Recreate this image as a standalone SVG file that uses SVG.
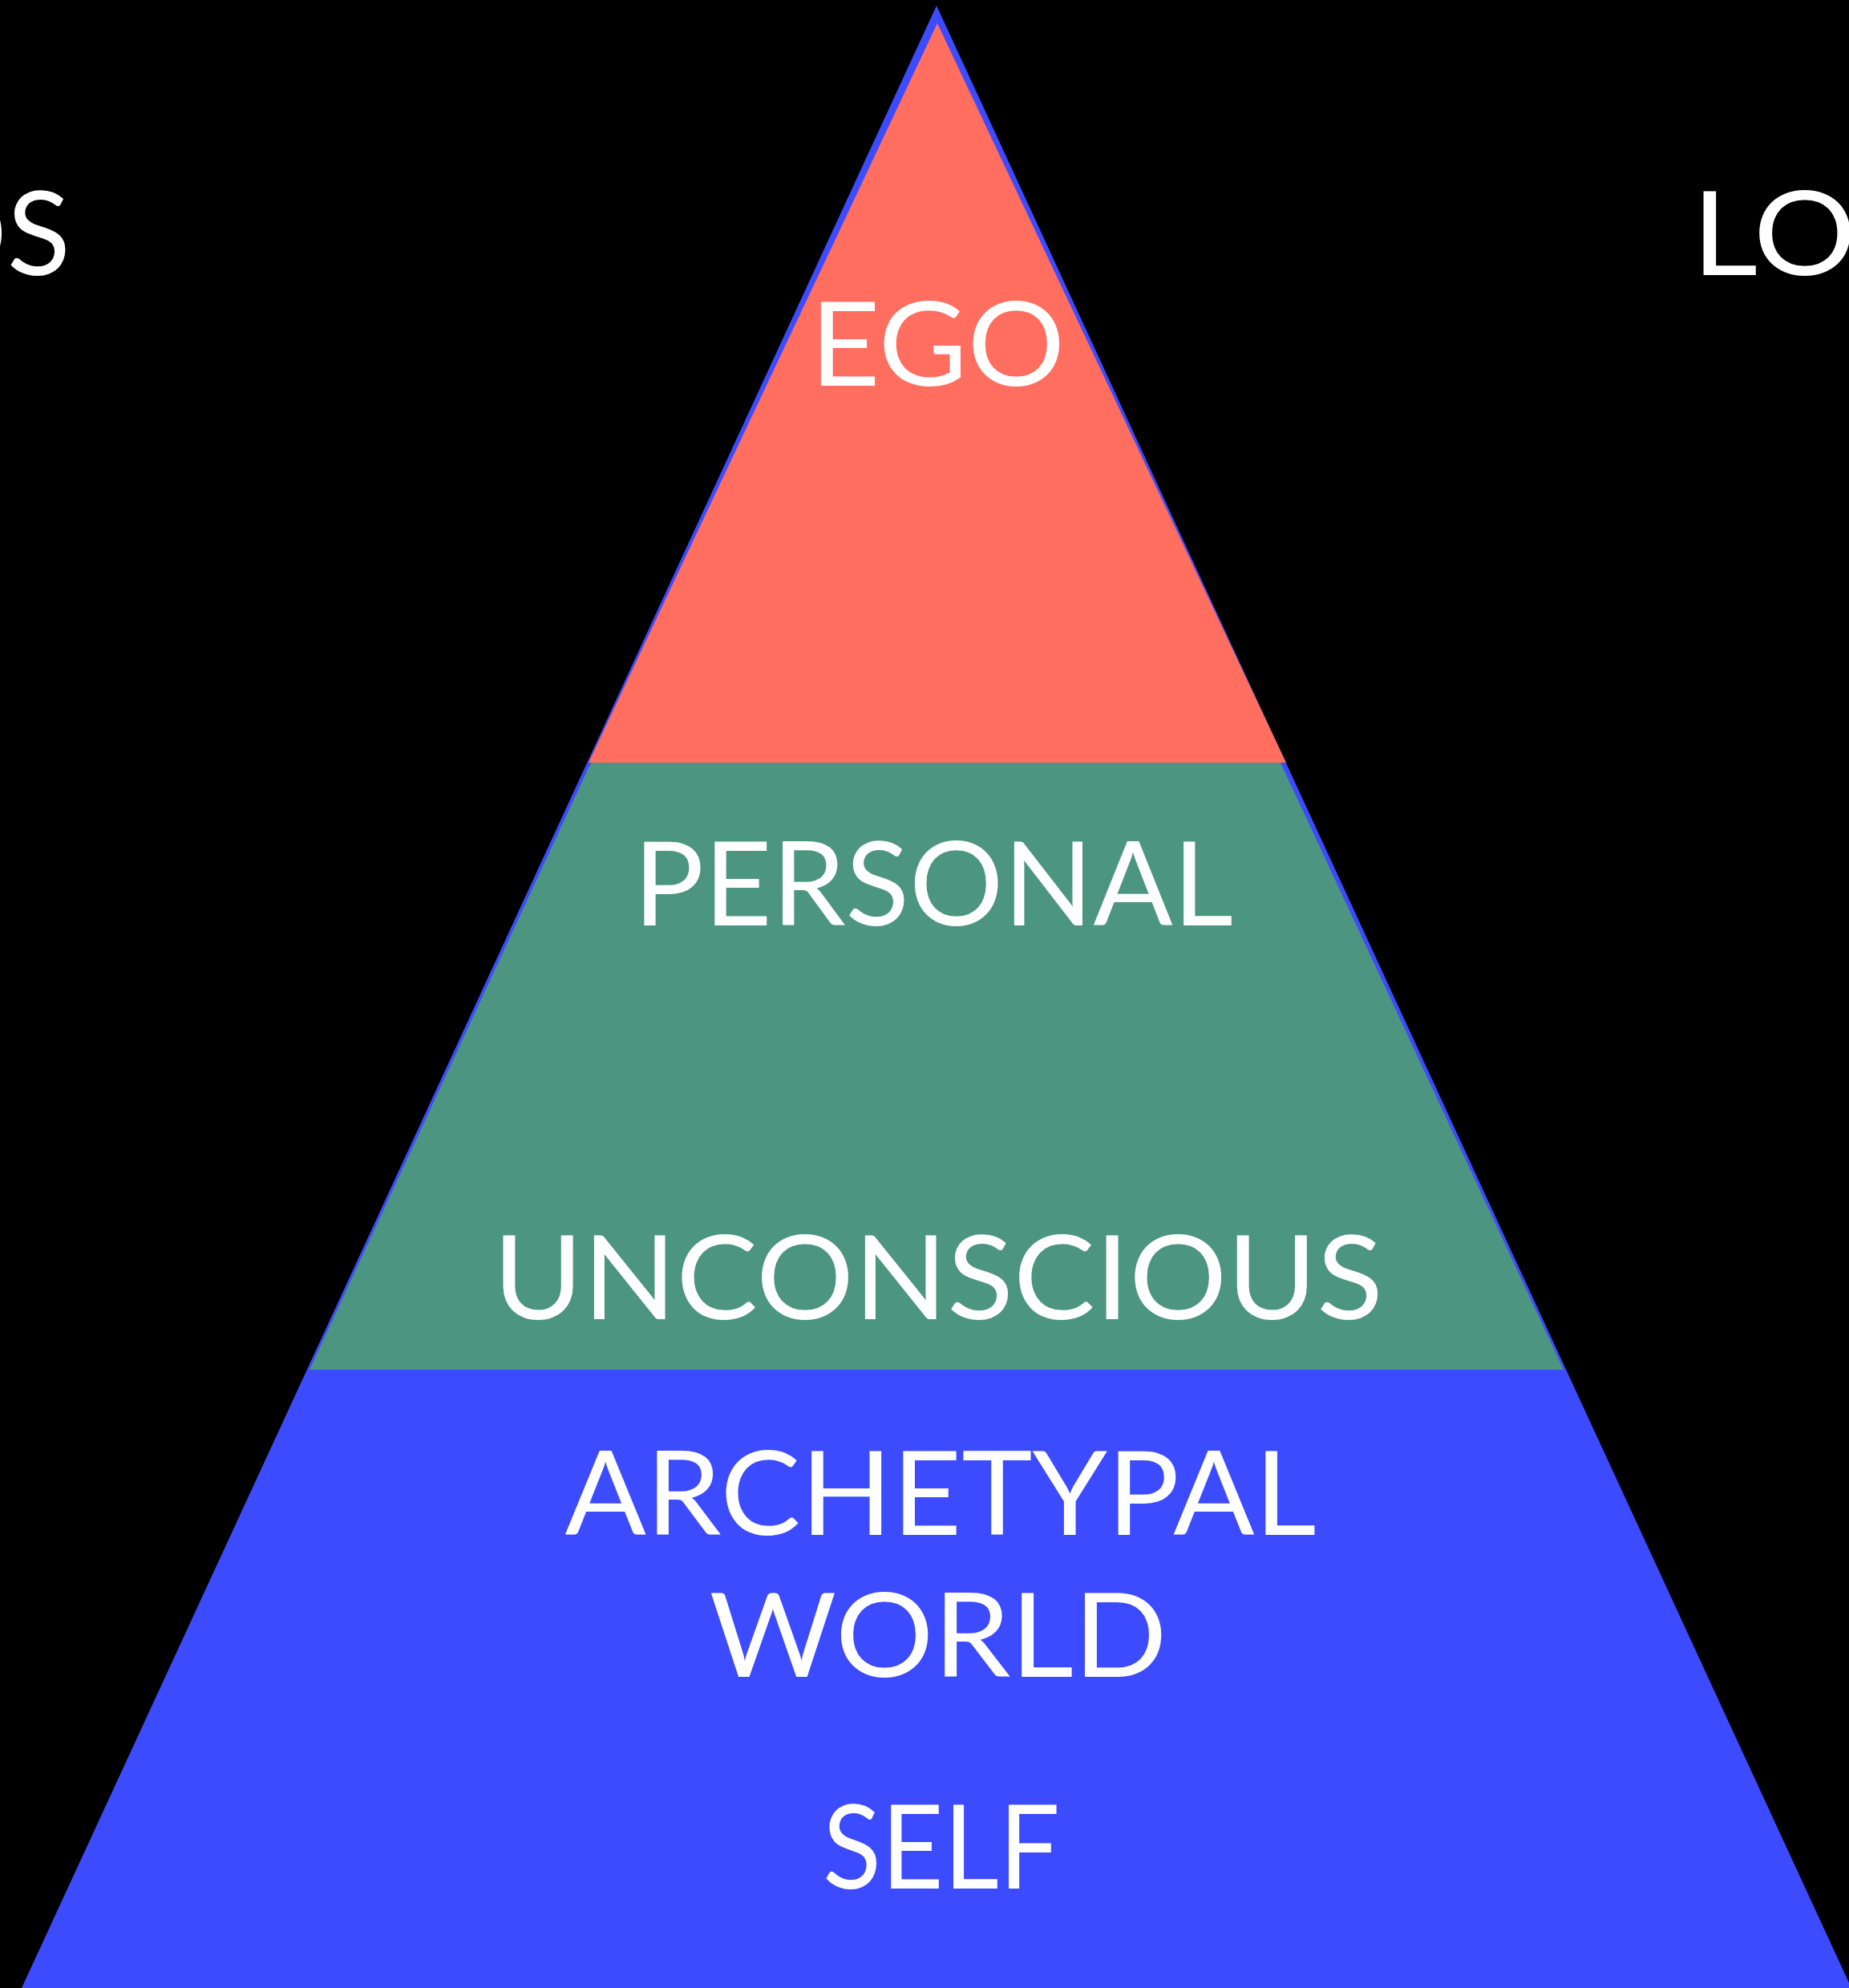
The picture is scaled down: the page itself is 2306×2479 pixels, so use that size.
<svg xmlns="http://www.w3.org/2000/svg" width="2306" height="2479" viewBox="0 0 2306 2479">
  <style>
    .lbl { font-family: "Lato", "Open Sans", "Liberation Sans", sans-serif; font-size: 146px; fill: #ffffff; text-anchor: middle; }
    .side { font-family: "Lato", "Open Sans", "Liberation Sans", sans-serif; font-size: 146px; fill: #ffffff; }
  </style>
  <rect x="0" y="0" width="2306" height="2479" fill="#000000"/>

  <!-- outer pyramid, also the bottom layer -->
  <g id="self-layer">
    <polygon points="1168,7 2309,2479 27,2479" fill="#3d4bff"/>
  </g>
  <!-- middle layer -->
  <g id="personal-unconscious">
    <polygon points="737,951 1597,951 1950,1708 386,1708" fill="#4c9580"/>
  </g>
  <!-- top layer -->
  <g id="ego">
    <polygon points="1169,29 1604,951 734,951" fill="#ff6e5e"/>
  </g>

  <g id="labels">
    <text class="lbl" x="1169" y="481" textLength="318" lengthAdjust="spacingAndGlyphs">EGO</text>
    <text class="lbl" x="1164" y="1154" textLength="748" lengthAdjust="spacingAndGlyphs">PERSONAL</text>
    <text class="lbl" x="1170" y="1645" textLength="1110" lengthAdjust="spacingAndGlyphs">UNCONSCIOUS</text>
    <text class="lbl" x="1173" y="1914" textLength="937" lengthAdjust="spacingAndGlyphs">ARCHETYPAL</text>
    <text class="lbl" x="1170" y="2091" textLength="571" lengthAdjust="spacingAndGlyphs">WORLD</text>
    <text class="lbl" x="1174" y="2355" textLength="296" lengthAdjust="spacingAndGlyphs">SELF</text>
  </g>

  <g id="side-labels">
    <text class="side" x="88" y="343" text-anchor="end">OS</text>
    <text class="side" x="2110" y="343" textLength="205" lengthAdjust="spacingAndGlyphs">LO</text>
  </g>
</svg>
